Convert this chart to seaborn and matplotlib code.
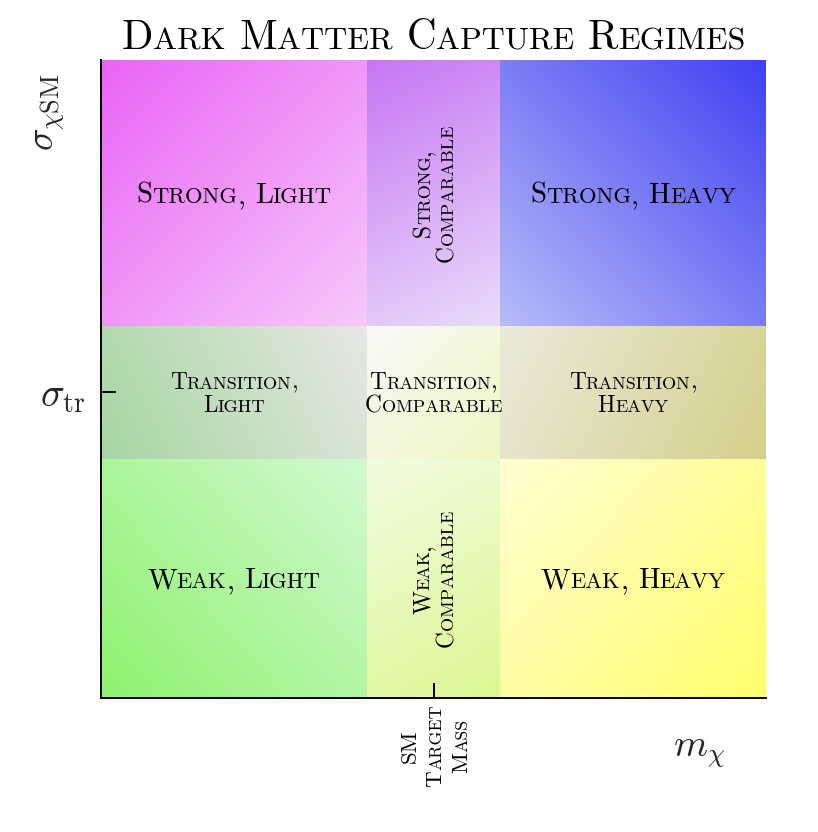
import numpy as np
import matplotlib
matplotlib.use("Agg")
import matplotlib.pyplot as plt
import matplotlib.transforms as mtransforms
import seaborn as sns

# ---------------- data ----------------
title = "Dark Matter Capture Regimes"
x_edges = [0.0, 0.4, 0.6, 1.0]          # Light | Comparable | Heavy
y_edges = [0.0, 0.375, 0.583, 1.0]      # Weak | Transition | Strong
x_tick_pos = [0.5]
x_tick_label = "SM\nTarget\nMass"
y_tick_pos = [0.479]
y_tick_label = [r"$\sigma_{\rm tr}$"]
x_label = r"$m_\chi$"
y_label = r"$\sigma_{\chi\mathrm{SM}}$"

# rows bottom -> top (Weak, Transition, Strong); columns Light, Comparable, Heavy
cell_labels = [
    ["Weak, Light", "Weak,\nComparable", "Weak, Heavy"],
    ["Transition,\nLight", "Transition,\nComparable", "Transition,\nHeavy"],
    ["Strong, Light", "Strong,\nComparable", "Strong, Heavy"],
]
cell_rotation = [[0, 90, 0], [0, 0, 0], [0, 90, 0]]
start_colors = [
    ["#8ef26e", "#f2fce2", "#fffdd2"],
    ["#a6d6a2", "#f9f9f7", "#ece9dc"],
    ["#ea64f6", "#c676f4", "#4040f2"],
]
end_colors = [
    ["#d2fad2", "#dcf892", "#ffff6c"],
    ["#e6e8e2", "#eef8c4", "#d5d08a"],
    ["#f7c9fa", "#eadcfa", "#b8bcf8"],
]
start_corner = [
    ["bl", "tl", "tl"],
    ["bl", "tl", "tl"],
    ["tl", "tl", "tr"],
]

# ---------------- style ----------------
sns.set_theme(style="ticks")
plt.rcParams["mathtext.fontset"] = "cm"
plt.rcParams["axes.edgecolor"] = "black"
plt.rcParams["font.family"] = ["cmr10", "DejaVu Serif"]
plt.rcParams["axes.formatter.use_mathtext"] = True
FONT = "cmr10"

AX_W_PX, AX_H_PX = 665, 638
fig = plt.figure(figsize=(8.18, 8.32), dpi=100)
ax = fig.add_axes([101 / 818, 1 - 698 / 832, AX_W_PX / 818, AX_H_PX / 832])
renderer = fig.canvas.get_renderer()


def cell_gradient(c0, c1, corner, w, h, n=240):
    """Linear gradient along the cell diagonal (in screen space)."""
    pal = np.array(sns.blend_palette([c0, c1], n_colors=256))
    u = np.linspace(0, 1, n)
    U, V = np.meshgrid(u, u)
    if corner == "tl":
        a, b = U, 1 - V
    elif corner == "tr":
        a, b = 1 - U, 1 - V
    elif corner == "bl":
        a, b = U, V
    else:
        a, b = 1 - U, V
    t = (a * w * w + b * h * h) / (w * w + h * h)
    return pal[np.round(t * 255).astype(int)]


for r in range(3):
    for c in range(3):
        w = (x_edges[c + 1] - x_edges[c]) * AX_W_PX
        h = (y_edges[r + 1] - y_edges[r]) * AX_H_PX
        img = cell_gradient(start_colors[r][c], end_colors[r][c], start_corner[r][c], w, h)
        ax.imshow(img, extent=(x_edges[c], x_edges[c + 1], y_edges[r], y_edges[r + 1]),
                  origin="lower", aspect="auto", interpolation="bilinear", zorder=0)

ax.set_xlim(0, 1)
ax.set_ylim(0, 1)
sns.despine(ax=ax)
for s in ["left", "bottom"]:
    ax.spines[s].set_linewidth(1.4)
    ax.spines[s].set_color("black")

ax.set_xticks(x_tick_pos)
ax.set_xticklabels([""])
ax.set_yticks(y_tick_pos)
ax.set_yticklabels(y_tick_label, fontsize=28.5)
ax.tick_params(axis="both", direction="in", length=11, width=1.4, color="black", pad=11)


# ---------------- small caps helper ----------------
def advance(s, size):
    t = fig.text(0, 0, "I" + s + "I", fontsize=size, family=FONT)
    w1 = t.get_window_extent(renderer).width
    t.set_text("II")
    w2 = t.get_window_extent(renderer).width
    t.remove()
    return (w1 - w2) * 72.0 / fig.dpi


def tokenize(line):
    runs = []
    for ch in line:
        if ch == " ":
            kind, cc = "space", " "
        elif ch.islower():
            kind, cc = "small", ch.upper()
        else:
            kind, cc = "big", ch
        if runs and runs[-1][1] == kind:
            runs[-1][0] += cc
        else:
            runs.append([cc, kind])
    return runs


def smallcaps(x, y, text, size, transform, rotation=0, ratio=0.78, linesep=1.2):
    lines = text.split("\n")
    n = len(lines)
    cap = 0.683 * size
    L = linesep * size
    for i, line in enumerate(lines):
        runs = tokenize(line)
        widths = []
        for s, kind in runs:
            if kind == "space":
                widths.append(0.333 * size)
            else:
                widths.append(advance(s, size if kind == "big" else size * ratio))
        total = sum(widths)
        p = ((n - 1) / 2 - i) * L - cap / 2
        a = -total / 2
        for (s, kind), w in zip(runs, widths):
            if kind != "space":
                if rotation == 0:
                    dx, dy = a, p
                else:
                    dx, dy = -p, a
                tr = transform + mtransforms.ScaledTranslation(dx / 72, dy / 72, fig.dpi_scale_trans)
                ax.text(x, y, s, transform=tr, fontsize=size if kind == "big" else size * ratio,
                        family=FONT, rotation=rotation, rotation_mode="anchor",
                        ha="left", va="baseline", color="black", clip_on=False, zorder=5)
            a += w


# cell labels
for r in range(3):
    for c in range(3):
        cx = (x_edges[c] + x_edges[c + 1]) / 2
        cy = (y_edges[r] + y_edges[r + 1]) / 2
        lab = cell_labels[r][c]
        single = "\n" not in lab
        size = 20.8 if single else 16.8
        smallcaps(cx, cy, lab, size, ax.transData, rotation=cell_rotation[r][c], linesep=1.0)

# title
smallcaps(0.5, 1 + 25 / 638, title, 29.6, ax.transAxes)

# x tick label (small caps, rotated)
xt = mtransforms.blended_transform_factory(ax.transData, ax.transAxes)
smallcaps(x_tick_pos[0], -48 / 638, x_tick_label, 16.5, xt, rotation=90, linesep=1.13)

# axis labels
ax.text(-51 / 665, (698 - 112) / 638, y_label, transform=ax.transAxes, rotation=90,
        ha="center", va="center", fontsize=27, clip_on=False)
ax.text((699 - 101) / 665, (698 - 752) / 638, x_label, transform=ax.transAxes,
        ha="center", va="center", fontsize=28, clip_on=False)

fig.savefig("out.png", dpi=100, facecolor="white")
